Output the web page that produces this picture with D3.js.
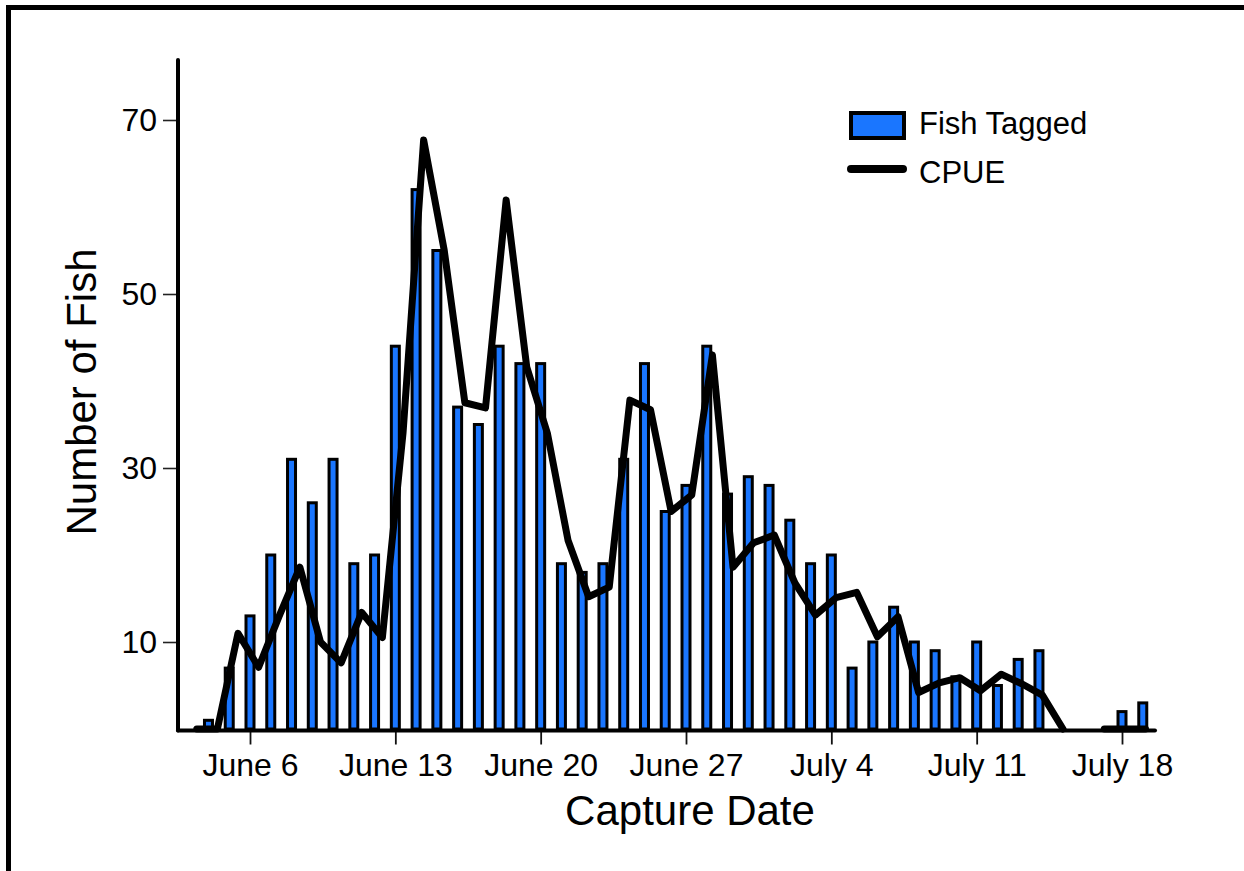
<!DOCTYPE html>
<html>
<head>
<meta charset="utf-8">
<script src="https://cdn.jsdelivr.net/npm/d3@7"></script>
<style>
  html, body { margin: 0; padding: 0; background: #fff; }
  svg { display: block; font-family: "Liberation Sans", Arial, sans-serif; }
</style>
</head>
<body>
<svg id="chart" width="1244" height="871"></svg>
<script>
// ---- data ----
const dates = [
  "2000-06-03","2000-06-04","2000-06-05","2000-06-06","2000-06-07","2000-06-08","2000-06-09",
  "2000-06-10","2000-06-11","2000-06-12","2000-06-13","2000-06-14","2000-06-15","2000-06-16",
  "2000-06-17","2000-06-18","2000-06-19","2000-06-20","2000-06-21","2000-06-22","2000-06-23",
  "2000-06-24","2000-06-25","2000-06-26","2000-06-27","2000-06-28","2000-06-29","2000-06-30",
  "2000-07-01","2000-07-02","2000-07-03","2000-07-04","2000-07-05","2000-07-06","2000-07-07",
  "2000-07-08","2000-07-09","2000-07-10","2000-07-11","2000-07-12","2000-07-13","2000-07-14",
  "2000-07-15","2000-07-16","2000-07-17","2000-07-18","2000-07-19"
];
const fishTagged = [
  null, 1, 7, 13, 20, 31, 26,
  31, 19, 20, 44, 62, 55, 37,
  35, 44, 42, 42, 19, 18, 19,
  31, 42, 25, 28, 44, 27, 29,
  28, 24, 19, 20, 7, 10, 14,
  10, 9, 6, 10, 5, 8, 9,
  null, null, null, 2, 3
];
const cpue = [
  0, 0, 11, 7.1, 13, 18.6, 10,
  7.6, 13.4, 10.5, 34, 67.7, 55, 37.5,
  36.9, 60.8, 41.6, 34, 21.7, 15.2, 16.3,
  37.8, 36.7, 25, 26.9, 43, 18.6, 21.4,
  22.3, 16.8, 13.1, 15.1, 15.7, 10.6, 12.9,
  4.2, 5.3, 5.9, 4.4, 6.3, 5.2, 3.9,
  0, null, 0, 0, 0
];
const yTicks = [10, 30, 50, 70];
const xTicks = ["2000-06-06","2000-06-13","2000-06-20","2000-06-27","2000-07-04","2000-07-11","2000-07-18"];
const seriesNames = ["Fish Tagged", "CPUE"];
const xTitle = "Capture Date";
const yTitle = "Number of Fish";

// ---- setup ----
const parse = d3.timeParse("%Y-%m-%d");
const days = dates.map(parse);
const rows = days.map((d, i) => ({ date: d, fish: fishTagged[i], cpue: cpue[i] }));

const svg = d3.select("#chart");
const blue = "#1a76ff";

// frame
svg.append("line").attr("x1", 6).attr("x2", 1244).attr("y1", 7.5).attr("y2", 7.5)
  .attr("stroke", "#000").attr("stroke-width", 5);
svg.append("line").attr("x1", 8.5).attr("x2", 8.5).attr("y1", 5).attr("y2", 871)
  .attr("stroke", "#000").attr("stroke-width", 5);

// scales
const x = d3.scaleTime()
  .domain([parse("2000-06-06"), parse("2000-07-18")])
  .range([250, 1122]);
// CPUE series is plotted on a slightly shifted time axis
const xLine = d3.scaleTime()
  .domain([parse("2000-06-05"), parse("2000-07-15")])
  .range([238, 1063]);
const y = d3.scaleLinear().domain([0, 70]).range([729, 120]);

const axisLeftX = 178, axisBottomY = 730.5, axisRightX = 1155, axisTopY = 60;

// bars
const barW = 8;
svg.append("g").selectAll("rect")
  .data(rows.filter(r => r.fish != null))
  .join("rect")
  .attr("x", d => x(d.date) - barW / 2)
  .attr("y", d => y(d.fish))
  .attr("width", barW)
  .attr("height", d => y(0) - y(d.fish))
  .attr("fill", blue)
  .attr("stroke", "#000")
  .attr("stroke-width", 3);

// line
const line = d3.line()
  .defined(d => d.cpue != null)
  .x(d => xLine(d.date))
  .y(d => y(d.cpue));
svg.append("path")
  .datum(rows)
  .attr("d", line)
  .attr("fill", "none")
  .attr("stroke", "#000")
  .attr("stroke-width", 7)
  .attr("stroke-linejoin", "round")
  .attr("stroke-linecap", "round");

// y axis
const gy = svg.append("g").attr("transform", `translate(${axisLeftX},0)`)
  .call(d3.axisLeft(y).tickValues(yTicks).tickSize(15).tickPadding(6));
gy.select(".domain").remove();
gy.selectAll(".tick line").attr("stroke", "#222").attr("stroke-width", 1.6);
gy.selectAll(".tick text").attr("font-size", 32).attr("fill", "#000")
  .attr("font-family", "Liberation Sans, Arial, sans-serif");

// x axis
const gx = svg.append("g").attr("transform", `translate(0,${axisBottomY})`)
  .call(d3.axisBottom(x).tickValues(xTicks.map(parse)).tickSize(14).tickPadding(9)
    .tickFormat(d3.timeFormat("%B %-d")));
gx.select(".domain").remove();
gx.selectAll(".tick line").attr("stroke", "#111").attr("stroke-width", 1.8);
gx.selectAll(".tick text").attr("font-size", 32).attr("fill", "#000")
  .attr("font-family", "Liberation Sans, Arial, sans-serif");

// axis lines
svg.append("line").attr("x1", axisLeftX).attr("x2", axisLeftX)
  .attr("y1", axisTopY).attr("y2", axisBottomY)
  .attr("stroke", "#000").attr("stroke-width", 4).attr("stroke-linecap", "round");
svg.append("line").attr("x1", axisLeftX).attr("x2", axisRightX)
  .attr("y1", axisBottomY).attr("y2", axisBottomY)
  .attr("stroke", "#000").attr("stroke-width", 4).attr("stroke-linecap", "round");

// titles
svg.append("text").attr("x", 690).attr("y", 825).attr("text-anchor", "middle")
  .attr("font-size", 42).text(xTitle);
svg.append("text").attr("transform", "translate(96,392) rotate(-90)")
  .attr("text-anchor", "middle").attr("font-size", 42).text(yTitle);

// legend
const lg = svg.append("g");
lg.append("rect").attr("x", 851).attr("y", 113).attr("width", 53).attr("height", 25)
  .attr("fill", blue).attr("stroke", "#000").attr("stroke-width", 4);
lg.append("text").attr("x", 919).attr("y", 134).attr("font-size", 31).text(seriesNames[0]);
lg.append("line").attr("x1", 851).attr("x2", 903).attr("y1", 169).attr("y2", 169)
  .attr("stroke", "#000").attr("stroke-width", 8).attr("stroke-linecap", "round");
lg.append("text").attr("x", 919).attr("y", 183).attr("font-size", 31).text(seriesNames[1]);
</script>
</body>
</html>
